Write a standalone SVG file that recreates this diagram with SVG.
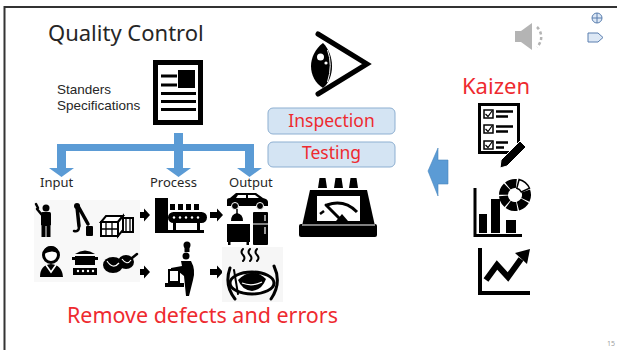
<svg xmlns="http://www.w3.org/2000/svg" width="617" height="350" viewBox="0 0 617 350">
  <style>
    .sans { font-family: "Noto Sans", "Liberation Sans", sans-serif; }
    .arial { font-family: "Liberation Sans", Arial, sans-serif; }
    .title { font-size: 22px; fill: #262626; }
    .label { font-size: 13px; fill: #262626; }
    .red { fill: #EE2A2F; }
    .box { fill: #D4E4F3; stroke: #8DAFD1; stroke-width: 1; }
    .ink { fill: #000; }
    .line { fill: none; stroke: #000; stroke-linecap: round; }
    .blue { fill: #5B9BD5; }
  </style>
  <defs>
    <!-- small black block arrow pointing right, origin at its left middle -->
    <polygon id="rarrow" points="0,-3 7,-3 7,-6.5 13,0 7,6.5 7,3 0,3" fill="#000"/>
  </defs>

  <rect width="617" height="350" fill="#fff"/>
  <!-- slide frame -->
  <path d="M4.5,350 V7 H617" fill="none" stroke="#333" stroke-width="2"/>

  <!-- title -->
  <text class="sans title" x="48" y="41">Quality Control</text>

  <!-- player icons -->
  <g id="speaker">
    <polygon points="515,31 521,31 532,23 532,50 521,42 515,42" fill="#B4B4B4"/>
    <path d="M537,27 A14,14 0 0 1 537,47" fill="none" stroke="#B4B4B4" stroke-width="2.5" stroke-dasharray="3 2.5"/>
  </g>
  <g id="nav">
    <circle cx="597" cy="18" r="5" fill="#DDE8F5" stroke="#5B7FAF" stroke-width="1"/>
    <path d="M592,18 H602 M597,13 V23" stroke="#5B7FAF" stroke-width="1"/>
    <polygon points="588,33 598,33 603,37.5 598,42 588,42" fill="#DDE8F5" stroke="#5B7FAF" stroke-width="1"/>
  </g>

  <!-- standards document -->
  <g id="standards">
    <text class="arial" x="57" y="94" font-size="13.5" fill="#262626">Standers</text>
    <text class="arial" x="57" y="110" font-size="13.5" fill="#262626">Specifications</text>
    <rect x="155.5" y="62.5" width="45" height="60" fill="#fff" stroke="#000" stroke-width="5"/>
    <rect x="161" y="74.5" width="16" height="3" class="ink"/>
    <rect x="161" y="83.5" width="16" height="3" class="ink"/>
    <rect x="178" y="70" width="17" height="18" class="ink"/>
    <rect x="161" y="92" width="35" height="3" class="ink"/>
    <rect x="161" y="100" width="35" height="3" class="ink"/>
    <rect x="161" y="108" width="35" height="3" class="ink"/>
  </g>

  <!-- connectors -->
  <g id="connectors">
    <path class="blue" d="M174,133 H183 V144 H254 V168 H262 L249.5,177 L237,168 H245 V151 H183 V168 H191 L178.5,177 L166,168 H174 V151 H66 V168 H74 L61.5,177 L49,168 H57 V144 H174 Z"/>
    <use href="#rarrow" x="137" y="215"/>
    <use href="#rarrow" x="210" y="215"/>
    <use href="#rarrow" x="137" y="272"/>
    <use href="#rarrow" x="210" y="272"/>
    <polygon points="428,171 438,148 438,160 448,160 448,184 438,184 438,196" fill="#5B9BD5" stroke="#4A86BE" stroke-width="0.6"/>
  </g>

  <!-- stage labels -->
  <text class="sans label" x="40" y="187">Input</text>
  <text class="sans label" x="150" y="187">Process</text>
  <text class="sans label" x="229" y="187">Output</text>

  <!-- input resources -->
  <g id="input">
    <rect x="34" y="200" width="106" height="82" fill="#F8F8F8"/>
    <!-- worker -->
    <circle cx="46" cy="208" r="3.5" class="ink"/>
    <rect x="41" y="212" width="10" height="14" rx="1.5" class="ink"/>
    <rect x="41.5" y="226" width="4" height="11" class="ink"/>
    <rect x="46.5" y="226" width="4" height="11" class="ink"/>
    <path class="line" d="M42,215 L37,209 M36,204 L38,208" stroke-width="2.5"/>
    <!-- robot arm -->
    <circle cx="77" cy="206" r="3" class="ink"/>
    <path class="line" d="M77,207 L79,226 M78,206 L88,224" stroke-width="3.5"/>
    <path class="line" d="M79,227 Q79,232 74,231" stroke-width="2.5"/>
    <rect x="86" y="226" width="7" height="10" rx="1" class="ink"/>
    <!-- crates -->
    <g fill="#fff" stroke="#000" stroke-width="2">
      <polygon points="101,222 118,222 123,216 106,216"/>
      <rect x="101" y="222" width="17" height="14"/>
      <polygon points="118,222 123,216 123,230 118,236"/>
      <rect x="123" y="218" width="10" height="14"/>
    </g>
    <path d="M106,222 V236 M112,222 V236 M101,229 H118 M126,218 V232 M130,218 V232" stroke="#000" stroke-width="1.3"/>
    <!-- person -->
    <circle cx="51" cy="255" r="7.5" fill="#fff" stroke="#000" stroke-width="3"/>
    <path d="M43.5,254 Q44,246 51,246 Q58,246 58.5,254 Q53,249 43.5,254 Z" class="ink"/>
    <path d="M40,277 Q40,265 51,264 Q62,265 63,277 Z" class="ink"/>
    <path d="M46,265 L51,272 L56,265" fill="none" stroke="#fff" stroke-width="1.6"/>
    <!-- pot on burner -->
    <path d="M75,254 Q85,247 95,254 Z" class="ink"/>
    <rect x="75" y="256" width="20" height="9" class="ink"/>
    <rect x="72" y="257" width="3" height="3" class="ink"/>
    <rect x="95" y="257" width="3" height="3" class="ink"/>
    <rect x="73" y="268" width="24" height="7" class="ink"/>
    <g fill="#fff"><circle cx="78" cy="271" r="1.2"/><circle cx="83" cy="271" r="1.2"/><circle cx="88" cy="271" r="1.2"/><circle cx="93" cy="271" r="1.2"/></g>
    <!-- meat -->
    <ellipse cx="113" cy="265" rx="10" ry="8" class="ink"/>
    <ellipse cx="126" cy="262" rx="8" ry="7" class="ink"/>
    <path d="M107,261 Q113,270 119,263 M122,259 Q127,266 131,260" fill="none" stroke="#fff" stroke-width="1.2"/>
    <path class="line" d="M132,258 L137,254" stroke-width="2.5"/>
  </g>

  <!-- process -->
  <g id="process">
    <rect x="155" y="198" width="13" height="35" class="ink"/>
    <rect x="170" y="204" width="5" height="6" class="ink"/>
    <rect x="178" y="204" width="5" height="6" class="ink"/>
    <rect x="186" y="204" width="5" height="6" class="ink"/>
    <rect x="194" y="204" width="5" height="6" class="ink"/>
    <rect x="168" y="212" width="39" height="11" rx="5.5" class="ink"/>
    <g fill="#fff"><circle cx="174" cy="217.5" r="1.2"/><circle cx="180" cy="217.5" r="1.2"/><circle cx="186" cy="217.5" r="1.2"/><circle cx="192" cy="217.5" r="1.2"/><circle cx="198" cy="217.5" r="1.2"/></g>
    <rect x="173" y="223" width="3" height="9" class="ink"/>
    <rect x="197" y="223" width="3" height="9" class="ink"/>
    <rect x="168" y="230" width="36" height="3" class="ink"/>
    <!-- chef -->
    <circle cx="187" cy="245" r="3.5" class="ink"/>
    <rect x="184.5" y="246" width="5" height="6" class="ink"/>
    <circle cx="186" cy="256" r="3.5" class="ink"/>
    <path d="M181,261 L191,261 Q196,270 193,280 L189,296 L186,296 L184,276 L179,272 L171,272 L171,268 L182,266 Z" class="ink"/>
    <rect x="169" y="270" width="10" height="12" fill="#fff" stroke="#000" stroke-width="2"/>
    <rect x="165" y="283" width="19" height="4" class="ink"/>
  </g>

  <!-- output products -->
  <g id="output">
    <!-- car -->
    <path d="M227,206 V200 Q227,198 230,198 L236,193 H256 L263,198 Q268,199 268,202 V206 Z" class="ink"/>
    <path d="M238,195 H246 V198 H236 Z M248,195 H255 L259,198 H248 Z" fill="#fff"/>
    <circle cx="235" cy="206" r="3.5" class="ink" stroke="#fff" stroke-width="1"/>
    <circle cx="260" cy="206" r="3.5" class="ink" stroke="#fff" stroke-width="1"/>
    <!-- lamp -->
    <path d="M237,209 V214" stroke="#000" stroke-width="1.5"/>
    <path d="M231,221 Q231,214 237,213 Q243,214 243,221 Z" class="ink"/>
    <!-- cabinet / tv -->
    <rect x="227" y="224" width="23" height="18" class="ink"/>
    <rect x="228" y="241" width="2.5" height="4" class="ink"/>
    <rect x="246.5" y="241" width="2.5" height="4" class="ink"/>
    <!-- fridge -->
    <rect x="253" y="212" width="15" height="33" rx="1" class="ink"/>
    <path d="M253,224 H268 M265,215 V221 M265,227 V234" stroke="#fff" stroke-width="1.2"/>
    <!-- served dish -->
    <rect x="222" y="247" width="61" height="55" fill="#F6F6F6"/>
    <path class="line" d="M243,249 q-3,3 0,6 q3,3 0,6 M250,249 q-3,3 0,6 q3,3 0,6 M257,249 q-3,3 0,6 q3,3 0,6" stroke-width="2"/>
    <ellipse cx="252" cy="283" rx="22" ry="11" fill="#fff" stroke="#000" stroke-width="3"/>
    <path d="M238,280 Q252,266 266,279 Q262,290 252,291 Q242,290 238,280 Z" class="ink"/>
    <path d="M242,283 Q252,287 262,282" fill="none" stroke="#fff" stroke-width="1.3"/>
    <path class="line" d="M230,268 Q224,285 235,299 M274,266 Q282,283 271,299" stroke-width="3"/>
    <path class="line" d="M234,270 L238,294" stroke-width="2"/>
  </g>

  <!-- inspection / testing -->
  <g id="eye">
    <polyline points="318,34 367,64 318,94" fill="none" stroke="#000" stroke-width="5" stroke-linecap="round" stroke-linejoin="miter"/>
    <path d="M323,43 C307,55 307,78 323,88 C335,78 335,55 323,43 Z" class="ink"/>
    <circle cx="320.5" cy="57" r="3.5" fill="#fff"/>
    <circle cx="326" cy="63" r="1.6" fill="#fff"/>
    <path d="M327.5,50 Q333,65 327.5,82" fill="none" stroke="#fff" stroke-width="1"/>
  </g>
  <g id="inspection">
    <rect class="box" x="268" y="108" width="127" height="26" rx="5"/>
    <text class="sans red" x="331.5" y="126.5" font-size="17.5" text-anchor="middle">Inspection</text>
  </g>
  <g id="testing">
    <rect class="box" x="268" y="142" width="127" height="25" rx="5"/>
    <text class="sans red" x="331.5" y="159" font-size="17.5" text-anchor="middle">Testing</text>
  </g>
  <g id="meter">
    <path d="M318,188 L319.5,178 H325.5 L327,188 Z M334,188 L335.5,178 H341.5 L343,188 Z M349,188 L350.5,178 H356.5 L358,188 Z" class="ink"/>
    <path d="M310,190 H367 L375,226 H302 Z" class="ink"/>
    <path d="M317,196 H360 V221 H317 Z" fill="#fff"/>
    <rect x="299" y="224" width="78" height="13" rx="2" class="ink"/>
    <path d="M302,225 H375" stroke="#fff" stroke-width="1.2"/>
    <path d="M327,205 Q344,199 357,212" fill="none" stroke="#000" stroke-width="3"/>
    <path d="M342,221 L326,205" stroke="#000" stroke-width="3" stroke-linecap="round"/>
    <path d="M336,221 L342,214 L348,221 Z" class="ink"/>
    <path d="M320,214 L324,211" stroke="#000" stroke-width="2.5"/>
  </g>

  <!-- kaizen -->
  <text class="sans red" x="462" y="94" font-size="22">Kaizen</text>
  <g id="kaizen-checklist">
    <rect x="479.5" y="104.5" width="39" height="48" fill="#fff" stroke="#000" stroke-width="3"/>
    <g fill="#fff" stroke="#000" stroke-width="1.5">
      <rect x="484" y="110" width="9" height="8"/>
      <rect x="484" y="125" width="9" height="8"/>
      <rect x="484" y="141" width="9" height="8"/>
    </g>
    <path d="M485.5,114 L488,116.5 L492,111 M485.5,129 L488,131.5 L492,126 M485.5,145 L488,147.5 L492,142" fill="none" stroke="#000" stroke-width="1.2"/>
    <path d="M496,111.5 H513 M496,116.5 H508 M496,126.5 H513 M496,131.5 H508 M496,142.5 H508 M496,147.5 H504" stroke="#000" stroke-width="2.5"/>
    <path d="M520,141 L526,147 L507,166 L500,168 L501,160 Z" class="ink" stroke="#fff" stroke-width="1"/>
  </g>
  <g id="kaizen-bars">
    <path d="M475,188 V235.5 H522" fill="none" stroke="#000" stroke-width="3"/>
    <rect x="479" y="214" width="8" height="19" class="ink"/>
    <rect x="491" y="199" width="9" height="34" class="ink"/>
    <rect x="506" y="220" width="10" height="13" class="ink"/>
    <circle cx="515" cy="195" r="11.5" fill="none" stroke="#000" stroke-width="9" stroke-dasharray="9.03 1 9.03 1 9.03 1 9.03 1 9.03 1 9.03 13.1" transform="rotate(340 515 195)"/>
    <path d="M519.1,179.5 A16,16 0 0 1 529.5,188.2 L521.3,192 A7,7 0 0 0 516.8,188.2 Z" fill="#fff" stroke="#000" stroke-width="1.5"/>
  </g>
  <g id="kaizen-trend">
    <path d="M480,248 V293 H530" fill="none" stroke="#000" stroke-width="4"/>
    <polyline points="486,280 497,265 508,277 521,259" fill="none" stroke="#000" stroke-width="6" stroke-linejoin="miter"/>
    <polygon points="515,253 530,249 527,264" class="ink"/>
  </g>

  <!-- goal -->
  <text class="sans red" x="67" y="323" font-size="21.5" textLength="271" lengthAdjust="spacingAndGlyphs">Remove defects and errors</text>

  <text class="sans" x="607" y="346" font-size="7" fill="#A0A0A0">15</text>
</svg>
